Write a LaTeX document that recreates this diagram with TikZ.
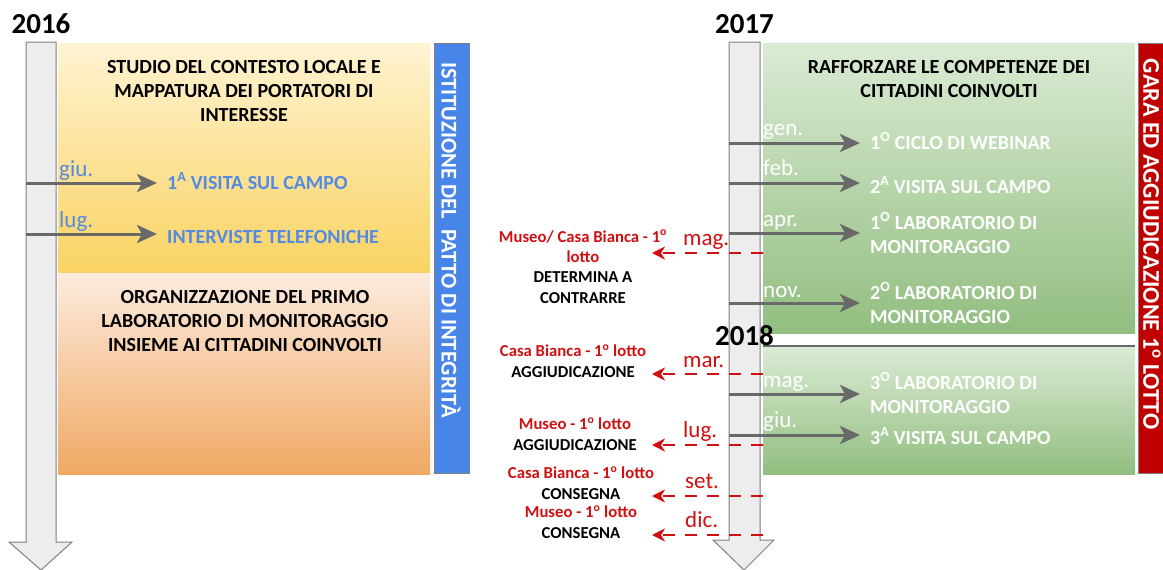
\documentclass[tikz,border=0pt]{standalone}
\usepackage{fontspec}
\setmainfont{Carlito}
\usetikzlibrary{arrows.meta,positioning}

\definecolor{axisfill}{RGB}{237,237,237}
\definecolor{axisline}{RGB}{128,128,128}
\definecolor{arrgray}{RGB}{105,105,105}
\definecolor{evblue}{RGB}{84,139,226}
\definecolor{barblue}{RGB}{72,133,232}
\definecolor{barred}{RGB}{192,0,0}
\definecolor{evred}{RGB}{208,16,16}
\definecolor{ylwtop}{RGB}{255,243,210}
\definecolor{ylwbot}{RGB}{249,211,98}
\definecolor{orgtop}{RGB}{252,235,222}
\definecolor{orgbot}{RGB}{240,168,98}
\definecolor{grntop}{RGB}{218,235,212}
\definecolor{grnbot}{RGB}{146,190,128}

\tikzset{
  ttl/.style={font=\bfseries\fontsize{20}{24}\selectfont, align=center, anchor=base, inner sep=0pt},
  month/.style={font=\fontsize{23}{26}\selectfont, anchor=base west, inner sep=0pt},
  event/.style={font=\bfseries\fontsize{20}{24}\selectfont, anchor=base west, align=left, inner sep=0pt},
  gara/.style={font=\bfseries\fontsize{16.7}{20.3}\selectfont, align=center, anchor=base, inner sep=0pt},
  year/.style={font=\bfseries\fontsize{29}{30}\selectfont, anchor=base, inner sep=0pt},
  vtext/.style={font=\bfseries\fontsize{22.5}{26}\selectfont, text=white, rotate=-90, inner sep=0pt},
  tick/.style={draw=arrgray, line width=3pt, shorten >=10pt, -{Stealth[length=20pt,width=18pt,inset=5pt]}},
  redtick/.style={draw=evred, line width=2.2pt, dash pattern=on 12pt off 10pt, -{Stealth[length=13pt,width=13pt,inset=4pt]}}
}

\begin{document}
\begin{tikzpicture}[x=1pt,y=-1pt]
  \useasboundingbox (0,0) rectangle (1163,570);

  % 2016
  \draw[fill=axisfill, draw=axisline, line width=1pt] (26,42) -- (56,42) -- (56,542) -- (72,542) -- (41,570) -- (9,542) -- (26,542) -- cycle;
  \shade[top color=ylwtop, bottom color=ylwbot] (58,43) rectangle (430,272);
  \shade[top color=orgtop, bottom color=orgbot] (58,273) rectangle (430,474);
  \draw[fill=barblue, draw=axisline, line width=1pt] (434,43) rectangle (469,473);
  \node[vtext] (patto) at (451,240) {ISTITUZIONE DEL\ \ PATTO DI INTEGRITÀ};

  \node[year] (y16) at (41,33) {2016};

  \node[ttl] (studio) at (244,121.5) {STUDIO DEL CONTESTO LOCALE E\\MAPPATURA DEI PORTATORI DI\\INTERESSE};
  \node[ttl] (organ) at (245,351.5) {ORGANIZZAZIONE DEL PRIMO\\LABORATORIO DI MONITORAGGIO\\INSIEME AI CITTADINI COINVOLTI};

  \node[month, text=evblue] (giu16) at (59,176) {giu.};
  \node[month, text=evblue] (lug16) at (59,227) {lug.};
  \node[event, text=evblue] (visita1) at (167,189) {1\textsuperscript{A} VISITA SUL CAMPO};
  \node[event, text=evblue] (interv) at (167,243) {INTERVISTE TELEFONICHE};
  \coordinate (a16giu) at (26,183);
  \coordinate (a16lug) at (26,234);
  \draw[tick] (a16giu) -- (a16giu -| visita1.west);
  \draw[tick] (a16lug) -- (a16lug -| interv.west);

  % 2017 - 2018
  \draw[fill=axisfill, draw=axisline, line width=1pt] (729,42) -- (760,42) -- (760,540) -- (774,540) -- (744,570) -- (713,540) -- (729,540) -- cycle;
  \shade[top color=grntop, bottom color=grnbot] (763,43) rectangle (1135,333);
  \shade[top color=grntop, bottom color=grnbot] (763,347) rectangle (1135,474);
  \draw[arrgray, line width=1.5pt] (763,346) -- (1135,346);
  \draw[fill=barred, draw=axisline, line width=1pt] (1138,43) rectangle (1175,473);
  \node[vtext, font=\bfseries\fontsize{24}{26}\selectfont] (gara) at (1152,244) {GARA ED AGGIUDICAZIONE 1\textsuperscript{o} LOTTO};

  \node[year] (y17) at (744.5,33) {2017};

  \node[ttl] (rafforz) at (949,97.5) {RAFFORZARE LE COMPETENZE DEI\\CITTADINI COINVOLTI};

  \node[month, text=white] (gen17) at (763,135) {gen.};
  \node[month, text=white] (feb17) at (763,175) {feb.};
  \node[month, text=white] (apr17) at (763,226) {apr.};
  \node[month, text=white] (nov17) at (763,297) {nov.};
  \node[month, text=white] (mag18) at (763,387) {mag.};
  \node[month, text=white] (giu18) at (763,427) {giu.};
  \node[event, text=white] (webinar) at (870,149) {1\textsuperscript{O} CICLO DI WEBINAR};
  \node[event, text=white] (visita2) at (870,193) {2\textsuperscript{A} VISITA SUL CAMPO};
  \node[event, text=white] (lab1) at (870,253) {1\textsuperscript{O} LABORATORIO DI\\MONITORAGGIO};
  \node[event, text=white] (lab2) at (870,323) {2\textsuperscript{O} LABORATORIO DI\\MONITORAGGIO};
  \node[event, text=white] (lab3) at (870,413) {3\textsuperscript{O} LABORATORIO DI\\MONITORAGGIO};
  \node[event, text=white] (visita3) at (870,444) {3\textsuperscript{A} VISITA SUL CAMPO};
  \coordinate (a17gen) at (729,143);
  \coordinate (a17feb) at (729,183);
  \coordinate (a17apr) at (729,233);
  \coordinate (a17nov) at (729,303);
  \coordinate (a18mag) at (729,394);
  \coordinate (a18giu) at (729,435);
  \draw[tick] (a17gen) -- (a17gen -| webinar.west);
  \draw[tick] (a17feb) -- (a17feb -| visita2.west);
  \draw[tick] (a17apr) -- (a17apr -| lab1.west);
  \draw[tick] (a17nov) -- (a17nov -| lab2.west);
  \draw[tick] (a18mag) -- (a18mag -| lab3.west);
  \draw[tick] (a18giu) -- (a18giu -| visita3.west);

  \node[year] (y18) at (744.5,345) {2018};

  % gara
  \node[month, text=evred] (mag17r) at (683,245) {mag.};
  \node[month, text=evred] (mar18r) at (683,367) {mar.};
  \node[month, text=evred] (lug18r) at (683,437) {lug.};
  \node[month, text=evred] (set18r) at (685,488) {set.};
  \node[month, text=evred] (dic18r) at (685,527) {dic.};
  \node[gara] (determ) at (583,303) {\textcolor{evred}{Museo/ Casa Bianca - 1\textsuperscript{o}}\\\textcolor{evred}{lotto}\\DETERMINA A\\CONTRARRE};
  \node[gara] (aggcb) at (573,377) {\textcolor{evred}{Casa Bianca - 1\textsuperscript{o} lotto}\\AGGIUDICAZIONE};
  \node[gara] (aggmu) at (575,450) {\textcolor{evred}{Museo - 1\textsuperscript{o} lotto}\\AGGIUDICAZIONE};
  \node[gara] (conscb) at (581,499) {\textcolor{evred}{Casa Bianca - 1\textsuperscript{o} lotto}\\CONSEGNA};
  \node[gara] (consmu) at (581,538) {\textcolor{evred}{Museo - 1\textsuperscript{o} lotto}\\CONSEGNA};
  \coordinate (r17mag) at (763,253);  \coordinate (e17mag) at (652,253);
  \coordinate (r18mar) at (763,374);  \coordinate (e18mar) at (652,374);
  \coordinate (r18lug) at (763,445);  \coordinate (e18lug) at (652,445);
  \coordinate (r18set) at (763,496);  \coordinate (e18set) at (652,496);
  \coordinate (r18dic) at (763,535);  \coordinate (e18dic) at (652,535);
  \draw[redtick] (r17mag) -- (e17mag);
  \draw[redtick] (r18mar) -- (e18mar);
  \draw[redtick] (r18lug) -- (e18lug);
  \draw[redtick] (r18set) -- (e18set);
  \draw[redtick] (r18dic) -- (e18dic);
\end{tikzpicture}
\end{document}
